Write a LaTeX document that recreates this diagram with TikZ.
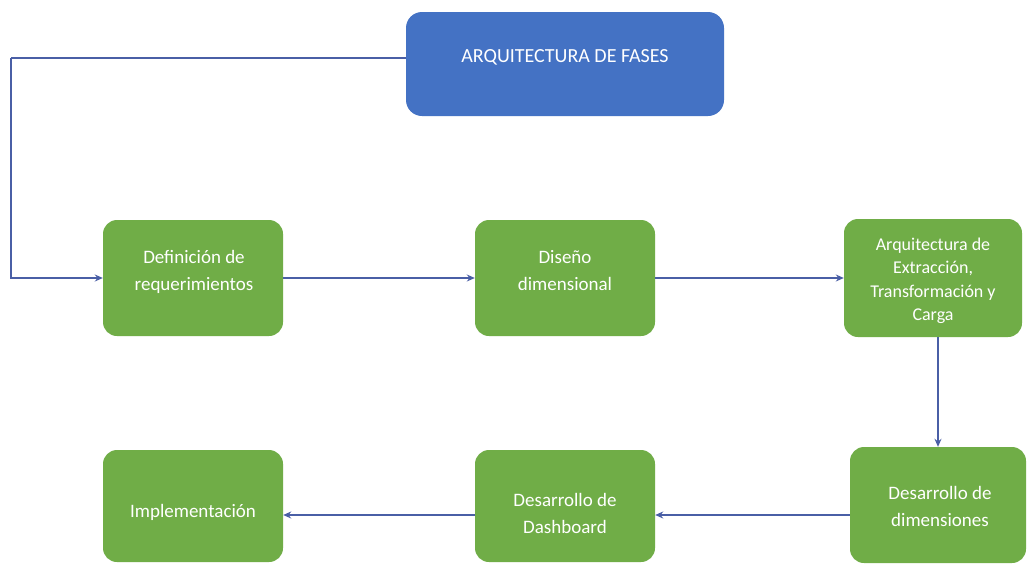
\documentclass[tikz,border=0pt]{standalone}
\usepackage{fontspec}
\setmainfont{Carlito}
\usetikzlibrary{arrows.meta}
\definecolor{boxgreen}{HTML}{70AD47}
\definecolor{boxblue}{HTML}{4472C4}
\definecolor{linecol}{HTML}{4A5FA6}
\tikzset{
  phase/.style={draw=none, fill=boxgreen, rounded corners=14pt, inner sep=0pt},
  titlebox/.style={draw=none, fill=boxblue, rounded corners=16pt, inner sep=0pt},
  lbl/.style={text=white, align=center, inner sep=0pt, font=\fontsize{19}{27}\selectfont},
  arr/.style={draw=linecol, line width=2pt, -{Stealth[length=8pt,width=7pt]}},
  conn/.style={draw=linecol, line width=2pt}
}
\begin{document}
\begin{tikzpicture}[x=1pt,y=-1pt]
\useasboundingbox (0,0) rectangle (1027,563);
\fill[white] (0,0) rectangle (1027,563);
\node[titlebox, minimum width=318pt, minimum height=104pt] (blue) at (565,64) {};
\node[lbl, font=\fontsize{20}{24}\selectfont] (tblue) at (565,57) {ARQUITECTURA DE FASES};
\node[phase, minimum width=180pt, minimum height=116pt] (b1) at (193,278) {};
\node[lbl] (t1) at (194,271.5) {Definición de\\requerimientos};
\node[phase, minimum width=180pt, minimum height=116pt] (b2) at (565,278) {};
\node[lbl] (t2) at (565,271) {Diseño\\dimensional};
\node[phase, minimum width=178pt, minimum height=118pt] (b3) at (933,278) {};
\node[lbl, font=\fontsize{18}{23.5}\selectfont] (t3) at (933,281) {Arquitectura de\\Extracción,\\Transformación y\\Carga};
\node[phase, minimum width=176pt, minimum height=116pt] (b4) at (938,505) {};
\node[lbl] (t4) at (940,506.5) {Desarrollo de\\dimensiones};
\node[phase, minimum width=180pt, minimum height=112pt] (b5) at (565,506) {};
\node[lbl] (t5) at (565,513.5) {Desarrollo de\\Dashboard};
\node[phase, minimum width=180pt, minimum height=112pt] (b6) at (193,506) {};
\node[lbl] (t6) at (193,512) {Implementación};
\coordinate (c1) at (11,58);
\draw[conn] ([yshift=6pt]blue.west) -- (c1);
\draw[arr] (c1) |- (b1.west);
\draw[arr] (b1.east) -- (b2.west);
\draw[arr] (b2.east) -- (b3.west);
\draw[arr] (b4.north |- b3.south) -- (b4.north);
\draw[arr] ([yshift=-10pt]b4.west) -- ([yshift=-10pt]b4.west -| b5.east);
\draw[arr] ([yshift=-10pt]b4.west -| b5.west) -- ([yshift=-10pt]b4.west -| b6.east);
\end{tikzpicture}
\end{document}
